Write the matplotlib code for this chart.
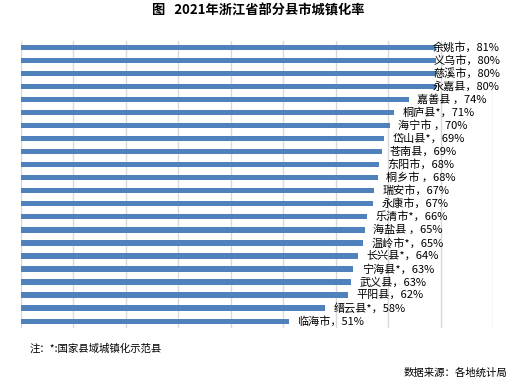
import matplotlib
matplotlib.use("Agg")
import matplotlib.pyplot as plt
import numpy as np

plt.rcParams['font.family'] = ['Noto Sans CJK SC', 'DejaVu Sans']

# ======================
# DATA (top to bottom)
# ======================
counties = ["余姚市", "义乌市", "慈溪市", "永嘉县", "嘉善县", "桐庐县*", "海宁市",
            "岱山县*", "苍南县", "东阳市", "桐乡市", "瑞安市", "永康市", "乐清市*",
            "海盐县", "温岭市*", "长兴县*", "宁海县*", "武义县", "平阳县", "缙云县*",
            "临海市"]
# bar lengths (%)
rates = [79.1, 79.1, 79.1, 79.1, 74.0, 71.1, 70.3, 69.2, 68.8, 68.3, 68.1,
         67.3, 67.1, 66.0, 65.5, 65.2, 64.3, 63.4, 62.9, 62.4, 58.0, 51.1]
# data labels as printed
label_pct = [81, 80, 80, 80, 74, 71, 70, 69, 69, 68, 68,
             67, 67, 66, 65, 65, 64, 63, 63, 62, 58, 51]
label_sep = ["，", "，", "，", "，", " ，", "，", " ，", "，", "，", "，", " ，",
             "，", "，", "，", " ，", "，", "，", "，", "，", "，", "，", "，"]

TITLE = "图   2021年浙江省部分县市城镇化率"
NOTE = "注：*:国家县域城镇化示范县"
SOURCE = "数据来源：各地统计局"

BAR_COLOR = "#4F81BD"
GRID_COLOR = "#D9D9D9"

# ======================
# PLOT
# ======================
W, H = 517, 381
fig = plt.figure(figsize=(W / 100, H / 100), dpi=100)
ax = fig.add_axes([21 / W, 1 - 327.7 / H, (493 - 21) / W, (327.7 - 40.7) / H])

y = np.arange(len(counties))
ax.barh(y, rates, height=0.41, color=BAR_COLOR, zorder=2)

ax.set_xlim(0, 90)
ax.set_ylim(len(counties) - 0.5, -0.5)
ax.set_xticks(np.arange(0, 91, 10))
ax.set_yticks([])
ax.tick_params(axis="x", length=0, labelbottom=False)
ax.grid(axis="x", color=GRID_COLOR, linewidth=1.0, zorder=0)
for s in ax.spines.values():
    s.set_visible(False)

# data labels, pushed left when they would run past the right edge
fig.canvas.draw()
renderer = fig.canvas.get_renderer()
right_limit = 500
for i, (v, name, sep, p) in enumerate(zip(rates, counties, label_sep, label_pct)):
    t = ax.annotate(f"{name}{sep}{p}%", xy=(v, i), xytext=(6, 0),
                    textcoords="offset points", ha="left", va="center",
                    fontsize=8, color="black", zorder=3)
    bb = t.get_window_extent(renderer)
    if bb.x1 > right_limit:
        t.set_position((6 - (bb.x1 - right_limit) * 72 / 100, 0))

fig.text(258 / W, 1 - 11 / H, TITLE, ha="center", va="center",
         fontsize=9.5, fontweight="bold")
fig.text(30 / W, 1 - 349 / H, NOTE, ha="left", va="center", fontsize=7.5)
fig.text(507 / W, 1 - 373 / H, SOURCE, ha="right", va="center", fontsize=7.5)

fig.savefig("out.png", dpi=100)
